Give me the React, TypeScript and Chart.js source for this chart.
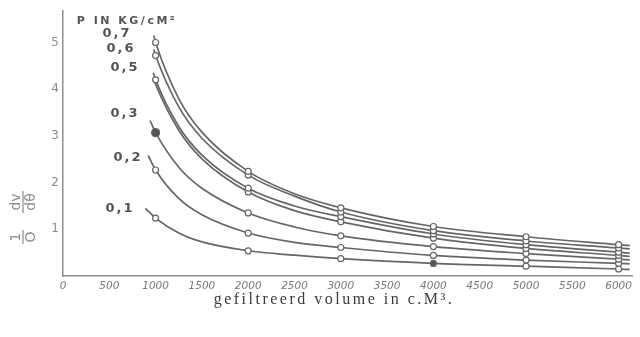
import React, { useEffect, useRef } from "react";
import { Chart, registerables } from "chart.js";

Chart.register(...registerables);

// Filtered volume (c.M³) along each curve; circles mark the measured volumes
const volumes = [1000, 1250, 1500, 2000, 2500, 3000, 4000, 5000, 6000];
const markedVolumes = [1000, 2000, 3000, 4000, 5000, 6000];

// Filtration rate (1/O · dv/dθ) for each pressure (kg/cm²)
const rate07 = [5.0, 3.8, 3.08, 2.24, 1.76, 1.46, 1.06, 0.84, 0.67];
const rate06 = [4.72, 3.62, 2.95, 2.16, 1.71, 1.37, 0.97, 0.75, 0.6];
const rate05 = [4.2, 3.2, 2.59, 1.88, 1.5, 1.27, 0.9, 0.67, 0.51];
const rate04 = [4.1, 3.12, 2.51, 1.8, 1.4, 1.16, 0.81, 0.59, 0.44];
const rate03 = [3.07, 2.33, 1.88, 1.35, 1.05, 0.86, 0.63, 0.48, 0.36];
const rate02 = [2.27, 1.66, 1.31, 0.92, 0.72, 0.61, 0.44, 0.34, 0.27];
const rate01 = [1.24, 0.92, 0.73, 0.54, 0.445, 0.37, 0.27, 0.21, 0.15];

const pressures = ["0,7", "0,6", "0,5", "0,4", "0,3", "0,2", "0,1"];
const rateSeries = [rate07, rate06, rate05, rate04, rate03, rate02, rate01];

// Where each drawn curve begins and ends (beyond the measured points)
const leadVolumes = [980, 980, 975, 975, 940, 920, 890];
const leadRates = [5.15, 4.85, 4.35, 4.24, 3.33, 2.58, 1.45];
const tailVolume = 6120;
const tailRates = [0.65, 0.58, 0.49, 0.42, 0.345, 0.26, 0.14];

const xTickValues = [0, 500, 1000, 1500, 2000, 2500, 3000, 3500, 4000, 4500, 5000, 5500, 6000];
const yTickValues = [1, 2, 3, 4, 5];

// Pressure labels written beside the curves, in data units
const curveLabels = [
  { text: "0,7", x: 583, y: 5.18 },
  { text: "0,6", x: 626, y: 4.86 },
  { text: "0,5", x: 670, y: 4.46 },
  { text: "0,3", x: 670, y: 3.48 },
  { text: "0,2", x: 702, y: 2.54 },
  { text: "0,1", x: 616, y: 1.45 },
];
const unitLabel = { text: "P IN KG/cM²", x: 691, y: 5.46 };

const LINE = "#666666";
const AXIS = "#8e8e8e";

function drawFraction(ctx: CanvasRenderingContext2D, cx: number, cy: number, num: string, den: string, barHalf: number) {
  ctx.save();
  ctx.translate(cx, cy);
  ctx.rotate(-Math.PI / 2);
  ctx.fillText(num, 0, -7);
  ctx.fillText(den, 0, 8);
  ctx.beginPath();
  ctx.moveTo(-barHalf, 0);
  ctx.lineTo(barHalf, 0);
  ctx.stroke();
  ctx.restore();
}

const annotations = {
  id: "annotations",
  afterDraw(chart: any) {
    const ctx: CanvasRenderingContext2D = chart.ctx;
    const xs = chart.scales.x;
    const ys = chart.scales.y;
    ctx.save();

    // pressure labels
    ctx.fillStyle = "#555";
    ctx.textAlign = "center";
    ctx.textBaseline = "middle";
    ctx.font = 'bold 13px "DejaVu Sans"';
    (ctx as any).letterSpacing = "2px";
    curveLabels.forEach((l) => {
      ctx.fillText(l.text, xs.getPixelForValue(l.x), ys.getPixelForValue(l.y));
    });
    ctx.font = 'bold 11px "DejaVu Sans"';
    (ctx as any).letterSpacing = "2.5px";
    ctx.fillText(unitLabel.text, xs.getPixelForValue(unitLabel.x), ys.getPixelForValue(unitLabel.y));

    // x-axis title
    (ctx as any).letterSpacing = "2.5px";
    ctx.fillStyle = "#3a3a3a";
    ctx.font = '16px "Liberation Serif"';
    ctx.fillText("gefiltreerd volume in c.M³.", 334, 300);

    // y-axis title: 1/O · dv/dθ
    (ctx as any).letterSpacing = "0px";
    ctx.fillStyle = "#8a8a8a";
    ctx.strokeStyle = "#8a8a8a";
    ctx.lineWidth = 1.2;
    ctx.font = '14px "DejaVu Sans"';
    drawFraction(ctx, 23, 202, "dv", "dθ", 11);
    drawFraction(ctx, 23, 237, "1", "O", 7);
    ctx.restore();
  },
};

export default function App() {
  const ref = useRef<HTMLCanvasElement | null>(null);

  useEffect(() => {
    if (!ref.current) return;
    const datasets = rateSeries.map((rates, i) => {
      const data = [
        { x: leadVolumes[i], y: leadRates[i] },
        ...volumes.map((v, j) => ({ x: v, y: rates[j] })),
        { x: tailVolume, y: tailRates[i] },
      ];
      const radius = data.map((p) => (markedVolumes.includes(p.x) ? 3 : 0));
      const fill = data.map(() => "#ffffff");
      const at = (v: number) => data.findIndex((p) => p.x === v);
      if (pressures[i] === "0,4") radius[at(1000)] = 0;
      if (pressures[i] === "0,3") {
        radius[at(1000)] = 4;
        fill[at(1000)] = "#555555";
      }
      if (pressures[i] === "0,1") fill[at(4000)] = "#555555";
      return {
        label: pressures[i],
        data,
        borderColor: LINE,
        borderWidth: 1.7,
        cubicInterpolationMode: "monotone" as const,
        fill: false,
        pointRadius: radius,
        pointBackgroundColor: fill,
        pointBorderColor: LINE,
        pointBorderWidth: 1.2,
      };
    });

    const chart = new Chart(ref.current, {
      type: "line",
      data: { datasets },
      options: {
        animation: false,
        responsive: false,
        layout: { padding: { top: 10, right: 7.5, left: 0, bottom: 0 } },
        plugins: { legend: { display: false }, tooltip: { enabled: false } },
        scales: {
          x: {
            type: "linear",
            min: 0,
            max: 6150,
            grid: { display: false, drawTicks: false },
            border: { display: true, color: AXIS, width: 1.5 },
            ticks: {
              color: "#7a7a7a",
              font: { family: '"DejaVu Sans"', size: 10.5, style: "italic" },
              padding: 4,
              maxRotation: 0,
              autoSkip: false,
              callback: (v: any) => String(v),
            },
            afterBuildTicks: (s: any) => {
              s.ticks = xTickValues.map((v) => ({ value: v }));
            },
            afterFit: (s: any) => {
              s.height = 61;
            },
          },
          y: {
            type: "linear",
            min: 0,
            max: 5.67,
            grid: { display: false, drawTicks: false },
            border: { display: true, color: AXIS, width: 1.5 },
            ticks: {
              color: "#8a8a8a",
              font: { family: '"DejaVu Sans"', size: 12 },
              padding: 4,
            },
            afterBuildTicks: (s: any) => {
              s.ticks = yTickValues.map((v) => ({ value: v }));
            },
            afterFit: (s: any) => {
              s.width = 63;
            },
          },
        },
      },
      plugins: [annotations],
    });
    return () => chart.destroy();
  }, []);

  return (
    <div style={{ position: "absolute", left: 0, top: 0, width: 640, height: 337, background: "#ffffff" }}>
      <canvas ref={ref} width={640} height={337} />
    </div>
  );
}
